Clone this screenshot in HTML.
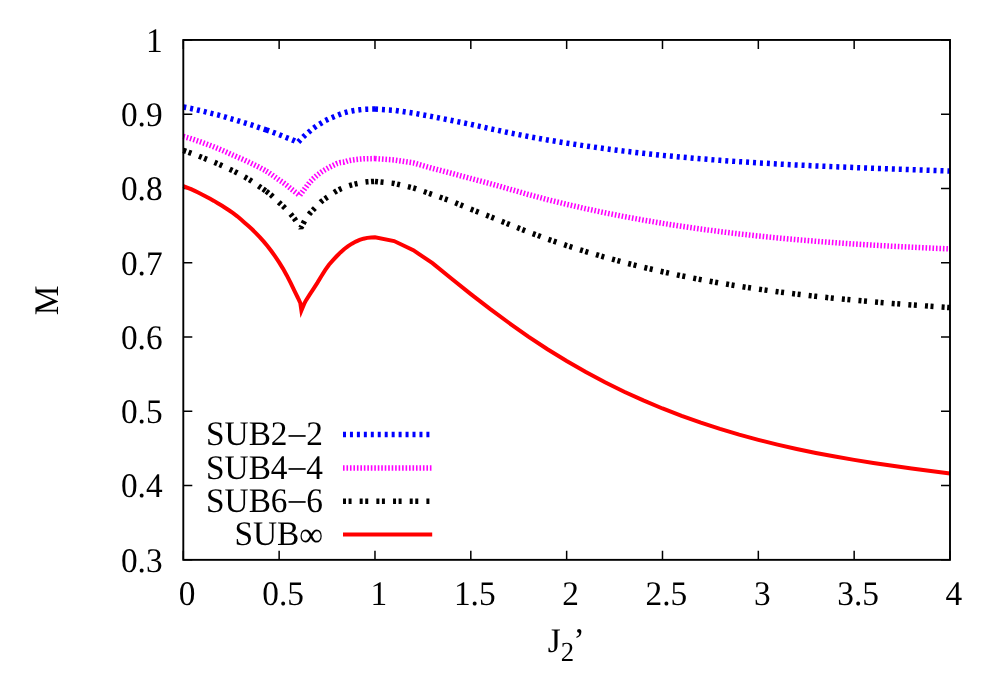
<!DOCTYPE html>
<html><head><meta charset="utf-8"><title>M vs J2'</title>
<style>
html,body{margin:0;padding:0;background:#fff;}
body{width:1000px;height:700px;overflow:hidden;}
svg{display:block;will-change:transform;}
text{font-family:"Liberation Serif",serif;fill:#000;text-rendering:geometricPrecision;}
</style></head><body>
<svg width="1000" height="700" viewBox="0 0 1000 700">
<rect x="0" y="0" width="1000" height="700" fill="#ffffff"/>
<g stroke="#000" stroke-width="1.5" fill="none" stroke-linecap="butt">
<path d="M183.30,559.85 h9.00 M950.00,559.85 h-9.00"/>
<path d="M183.30,485.58 h9.00 M950.00,485.58 h-9.00"/>
<path d="M183.30,411.31 h9.00 M950.00,411.31 h-9.00"/>
<path d="M183.30,337.04 h9.00 M950.00,337.04 h-9.00"/>
<path d="M183.30,262.76 h9.00 M950.00,262.76 h-9.00"/>
<path d="M183.30,188.49 h9.00 M950.00,188.49 h-9.00"/>
<path d="M183.30,114.22 h9.00 M950.00,114.22 h-9.00"/>
<path d="M183.30,39.95 h9.00 M950.00,39.95 h-9.00"/>
<path d="M183.30,559.85 v-9.00 M183.30,39.95 v9.00"/>
<path d="M279.14,559.85 v-9.00 M279.14,39.95 v9.00"/>
<path d="M374.98,559.85 v-9.00 M374.98,39.95 v9.00"/>
<path d="M470.81,559.85 v-9.00 M470.81,39.95 v9.00"/>
<path d="M566.65,559.85 v-9.00 M566.65,39.95 v9.00"/>
<path d="M662.49,559.85 v-9.00 M662.49,39.95 v9.00"/>
<path d="M758.33,559.85 v-9.00 M758.33,39.95 v9.00"/>
<path d="M854.16,559.85 v-9.00 M854.16,39.95 v9.00"/>
<path d="M950.00,559.85 v-9.00 M950.00,39.95 v9.00"/>
</g>
<g font-size="33.33">
<text transform="translate(162.60,571.65) scale(1,1.035)" font-size="33.33" text-anchor="end">0.3</text>
<text transform="translate(162.60,497.38) scale(1,1.035)" font-size="33.33" text-anchor="end">0.4</text>
<text transform="translate(162.60,423.11) scale(1,1.035)" font-size="33.33" text-anchor="end">0.5</text>
<text transform="translate(162.60,348.84) scale(1,1.035)" font-size="33.33" text-anchor="end">0.6</text>
<text transform="translate(162.60,274.56) scale(1,1.035)" font-size="33.33" text-anchor="end">0.7</text>
<text transform="translate(162.60,200.29) scale(1,1.035)" font-size="33.33" text-anchor="end">0.8</text>
<text transform="translate(162.60,126.02) scale(1,1.035)" font-size="33.33" text-anchor="end">0.9</text>
<text transform="translate(162.60,51.75) scale(1,1.035)" font-size="33.33" text-anchor="end">1</text>
<text transform="translate(187.20,605.20) scale(1,1.035)" font-size="33.33" text-anchor="middle">0</text>
<text transform="translate(283.04,605.20) scale(1,1.035)" font-size="33.33" text-anchor="middle">0.5</text>
<text transform="translate(378.88,605.20) scale(1,1.035)" font-size="33.33" text-anchor="middle">1</text>
<text transform="translate(474.71,605.20) scale(1,1.035)" font-size="33.33" text-anchor="middle">1.5</text>
<text transform="translate(570.55,605.20) scale(1,1.035)" font-size="33.33" text-anchor="middle">2</text>
<text transform="translate(666.39,605.20) scale(1,1.035)" font-size="33.33" text-anchor="middle">2.5</text>
<text transform="translate(762.23,605.20) scale(1,1.035)" font-size="33.33" text-anchor="middle">3</text>
<text transform="translate(858.06,605.20) scale(1,1.035)" font-size="33.33" text-anchor="middle">3.5</text>
<text transform="translate(953.90,605.20) scale(1,1.035)" font-size="33.33" text-anchor="middle">4</text>
</g>
<text font-size="33.33" text-anchor="middle" transform="translate(58,300.4) rotate(-90) scale(1,1.035)">M</text>
<text transform="translate(547.70,651.90) scale(1,1.035)" font-size="33.33" text-anchor="start">J<tspan font-size="26.66" dy="8.9">2</tspan><tspan font-size="33.33" dx="-0.6" dy="-8.7">’</tspan></text>
<g font-size="33.33" text-anchor="end">
<text transform="translate(323.00,445.30) scale(1,1.035)" font-size="33.33" text-anchor="end">SUB2<tspan dx="1.1" dy="-1.5">–</tspan><tspan dx="1.03" dy="1.5">2</tspan></text>
<text transform="translate(323.00,478.70) scale(1,1.035)" font-size="33.33" text-anchor="end">SUB4<tspan dx="1.1" dy="-1.5">–</tspan><tspan dx="1.03" dy="1.5">4</tspan></text>
<text transform="translate(323.00,512.00) scale(1,1.035)" font-size="33.33" text-anchor="end">SUB6<tspan dx="1.1" dy="-1.5">–</tspan><tspan dx="1.03" dy="1.5">6</tspan></text>
<text transform="translate(323.00,545.40) scale(1,1.035)" font-size="33.33" text-anchor="end">SUB<tspan dy="1.0">∞</tspan></text>
</g>
<defs><clipPath id="pc"><rect x="182.30" y="38.95" width="768.70" height="521.90"/></clipPath></defs>
<g stroke="#0000ff" stroke-width="5.50" fill="none" stroke-linejoin="miter" stroke-miterlimit="1.6" stroke-linecap="butt" stroke-dasharray="3 3.95">
<path d="M343,434.50 H431.8"/>
<path d="M183.30,107.02 L187.13,107.72 L190.97,108.49 L194.80,109.36 L198.63,110.26 L202.47,111.12 L206.30,112.06 L210.13,113.08 L213.97,114.02 L217.80,114.95 L221.64,115.98 L225.47,117.09 L229.30,118.29 L233.14,119.40 L236.97,120.46 L240.80,121.63 L244.64,122.84 L248.47,124.01 L252.30,125.23 L256.14,126.54 L259.97,127.81 L263.80,129.06 L266.20,129.88 M266.20,129.88 L267.64,130.37 L271.47,131.76 L275.30,133.19 L279.14,134.67 L282.97,136.18 L286.80,137.72 L290.64,139.21 L294.47,140.82 L297.80,142.50 L302.14,137.98 L305.97,134.45 L309.81,131.24 L313.64,128.02 L317.47,125.39 L321.31,123.11 L325.14,120.74 L328.97,118.86 L332.81,117.28 L336.64,115.65 L340.47,114.12 L344.31,112.70 L348.14,111.69 L351.97,110.94 L355.81,110.31 L359.64,109.80 L363.47,109.39 L367.31,109.19 L371.14,109.12 L374.98,109.10 L375.00,109.10 M375.00,109.10 L394.14,110.29 L413.31,113.10 L432.48,116.62 L451.65,120.43 L470.81,124.36 L489.98,128.66 L509.15,132.79 L528.32,136.50 L547.48,139.95 L566.65,143.11 L585.82,146.01 L604.99,148.68 L624.15,151.11 L643.32,153.32 L662.49,155.33 L681.66,157.16 L700.82,158.81 L719.99,160.31 L739.16,161.66 L758.33,162.88 L777.49,163.98 L796.66,164.99 L815.83,165.90 L835.00,166.74 L854.16,167.53 L873.33,168.26 L892.50,168.97 L911.67,169.66 L930.83,170.35 L950.00,171.06"/>
</g>
<g stroke="#ff00ff" stroke-width="5.50" fill="none" stroke-linejoin="miter" stroke-miterlimit="1.6" stroke-linecap="butt" stroke-dasharray="1.6 1.875">
<path d="M343,467.90 H431.8"/>
<path d="M183.30,136.43 L187.13,137.54 L190.97,138.71 L194.80,139.93 L198.63,141.23 L202.47,142.58 L206.30,143.98 L210.13,145.41 L213.97,146.89 L217.80,148.44 L221.64,150.05 L225.47,151.70 L229.30,153.43 L233.14,155.17 L236.97,156.85 L240.80,158.47 L244.64,160.13 L248.47,161.95 L252.30,163.85 L256.14,165.76 L259.97,167.64 L263.80,169.63 L266.20,171.07 M266.20,171.07 L267.64,171.93 L271.47,174.51 L275.30,177.27 L279.14,180.01 L282.97,182.50 L286.80,185.35 L290.64,188.45 L294.47,191.53 L299.70,195.40 L305.97,187.09 L309.81,182.22 L313.64,178.25 L317.47,174.91 L321.31,172.10 L325.14,169.72 L328.97,167.55 L332.81,165.54 L336.64,163.67 L340.47,162.52 L344.31,162.09 L348.14,160.75 L351.97,160.04 L355.81,159.51 L359.64,159.10 L363.47,158.82 L367.31,158.71 L371.14,158.63 L374.98,158.60 L375.00,158.60 M375.00,158.60 L394.14,159.99 L413.31,162.90 L432.48,168.35 L451.65,173.34 L470.81,178.52 L489.98,183.57 L509.15,189.00 L528.32,194.49 L547.48,199.61 L566.65,204.31 L585.82,208.71 L604.99,212.79 L624.15,216.58 L643.32,220.09 L662.49,223.33 L681.66,226.32 L700.82,229.07 L719.99,231.59 L739.16,233.90 L758.33,236.01 L777.49,237.93 L796.66,239.67 L815.83,241.25 L835.00,242.69 L854.16,243.99 L873.33,245.17 L892.50,246.23 L911.67,247.21 L930.83,248.10 L950.00,248.92"/>
</g>
<g stroke="#000000" stroke-width="5.50" fill="none" stroke-linejoin="miter" stroke-miterlimit="1.6" stroke-linecap="butt" stroke-dasharray="3 2.56 3 8.12">
<path d="M343,501.15 H431.8"/>
<path d="M183.30,150.43 L187.13,151.78 L190.97,153.17 L194.80,154.61 L198.63,156.08 L202.47,157.58 L206.30,159.12 L210.13,160.62 L213.97,162.14 L217.80,163.78 L221.64,165.56 L225.47,167.27 L229.30,168.98 L233.14,170.79 L236.97,172.75 L240.80,174.80 L244.64,176.93 L248.47,179.15 L252.30,181.56 L256.14,184.25 L259.97,186.98 L263.80,189.60 L266.20,191.33 M266.20,191.33 L267.64,192.36 L271.47,195.40 L275.30,198.98 L279.14,202.67 L282.97,206.01 L286.80,209.83 L290.64,214.08 L294.47,218.77 L300.80,228.00 L305.97,218.33 L309.81,213.37 L313.64,209.34 L317.47,205.38 L321.31,201.51 L325.14,198.69 L328.97,196.12 L332.81,193.38 L336.64,190.92 L340.47,188.94 L344.31,187.39 L348.14,186.01 L351.97,184.84 L355.81,183.90 L359.64,183.06 L363.47,182.36 L367.31,181.86 L371.14,181.55 L374.98,181.40 L375.00,181.40 M375.00,181.40 L394.14,183.39 L413.31,187.90 L432.48,194.50 L451.65,201.28 L470.81,209.19 L489.98,216.58 L509.15,224.38 L528.32,231.98 L547.48,239.02 L566.65,245.55 L585.82,251.61 L604.99,257.25 L624.15,262.47 L643.32,267.29 L662.49,271.74 L681.66,275.84 L700.82,279.60 L719.99,283.06 L739.16,286.22 L758.33,289.11 L777.49,291.74 L796.66,294.15 L815.83,296.35 L835.00,298.36 L854.16,300.21 L873.33,301.90 L892.50,303.47 L911.67,304.93 L930.83,306.30 L950.00,307.61"/>
</g>
<g stroke="#ff0000" stroke-width="4.00" fill="none" stroke-linejoin="miter" stroke-miterlimit="10" stroke-linecap="butt">
<path d="M343,534.50 H432.2"/>
<path d="M183.30,186.00 L187.13,187.54 L190.97,189.18 L194.80,190.91 L198.63,192.74 L202.47,194.68 L206.30,196.68 L210.13,198.75 L213.97,200.90 L217.80,203.17 L221.64,205.54 L225.47,208.00 L229.30,210.50 L233.14,213.13 L236.97,216.05 L240.80,219.31 L244.64,222.68 L248.47,226.02 L252.30,229.53 L256.14,233.32 L259.97,237.33 L263.80,241.63 L267.64,246.27 L271.47,251.27 L275.30,256.64 L279.14,262.35 L282.97,268.63 L286.80,275.40 L290.64,282.88 L294.47,290.78 L298.00,298.00 L298.31,298.60 L300.30,303.00 L301.40,310.50 L304.56,303.00 L305.97,300.39 L309.81,294.31 L313.64,288.56 L317.47,282.63 L321.31,276.31 L325.14,270.16 L328.97,264.76 L332.81,260.35 L336.64,256.26 L340.47,252.40 L344.31,249.03 L348.14,246.08 L351.97,243.63 L355.81,241.59 L359.64,239.91 L363.47,238.68 L367.31,237.86 L371.14,237.40 L374.98,237.20 L394.14,241.04 L413.31,250.21 L432.48,263.18 L451.65,278.82 L470.81,294.15 L489.98,308.94 L509.15,322.99 L528.32,336.56 L547.48,349.25 L566.65,361.05 L585.82,372.04 L604.99,382.25 L624.15,391.70 L643.32,400.43 L662.49,408.49 L681.66,415.90 L700.82,422.70 L719.99,428.94 L739.16,434.65 L758.33,439.86 L777.49,444.63 L796.66,448.97 L815.83,452.94 L835.00,456.57 L854.16,459.90 L873.33,462.97 L892.50,465.82 L911.67,468.48 L930.83,470.99 L950.00,473.40"/>
</g>
<rect x="183.30" y="39.95" width="766.70" height="519.90" fill="none" stroke="#000" stroke-width="1.9" stroke-linejoin="miter"/>
</svg>
</body></html>
